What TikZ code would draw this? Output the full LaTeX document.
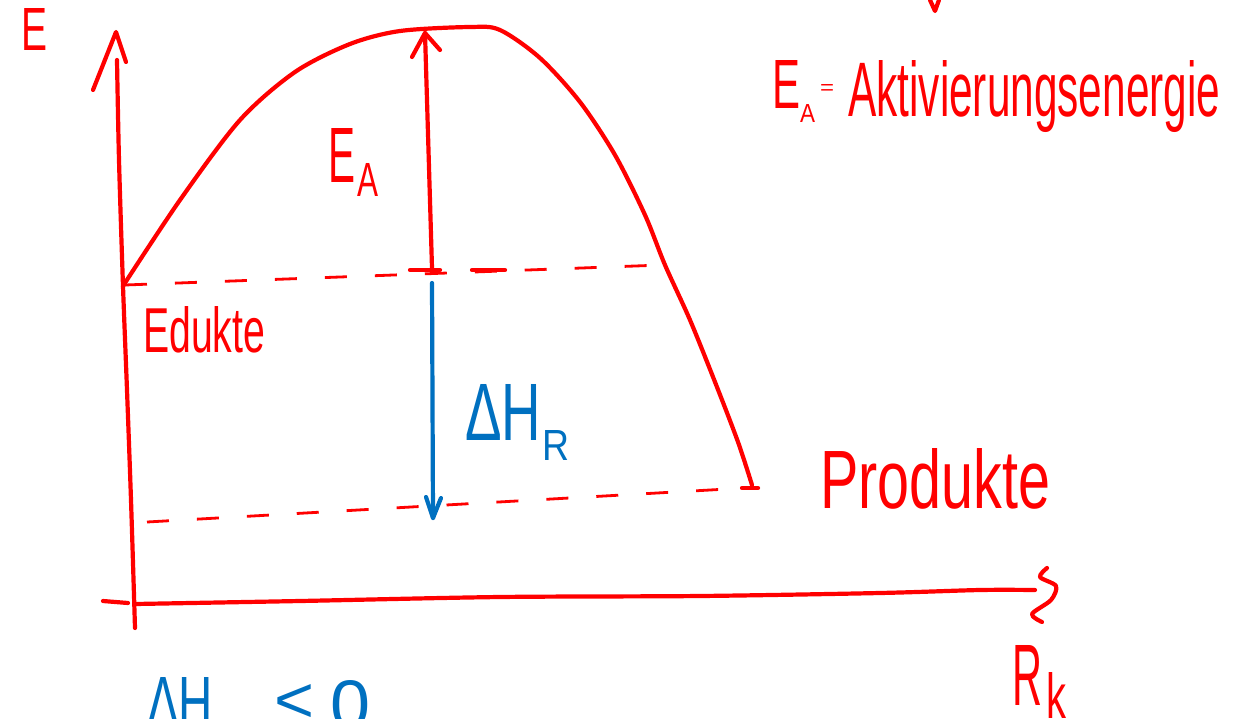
\documentclass[tikz,border=0pt]{standalone}
\usepackage{fontspec}
\setmainfont{Liberation Sans}
\definecolor{inkred}{RGB}{255,0,0}
\definecolor{inkblue}{RGB}{0,112,192}
\newcommand\hwbox[3]{\resizebox{#1pt}{#2pt}{#3}}
\tikzset{
  ink/.style={line width=4.2pt, line cap=round, line join=round},
  redink/.style={ink, draw=inkred},
  blueink/.style={ink, draw=inkblue},
  dashline/.style={line width=2.8pt, draw=inkred, dash pattern=on 22pt off 28pt},
  lbl/.style={inner sep=0pt, anchor=north west},
}
\begin{document}
\begin{tikzpicture}[x=1pt,y=-1pt]
\useasboundingbox (0,0) rectangle (1242,718);
\fill[white] (0,0) rectangle (1242,718);

% coordinates
\coordinate (ybot) at (135,628);
\coordinate (ytop) at (116,32);
\coordinate (edu) at (123,286);
\coordinate (peak) at (470,27);
\coordinate (prod) at (752,487);
\coordinate (eatop) at (425,33);
\coordinate (eabot) at (432,268);
\coordinate (dhtop) at (432,283);
\coordinate (dhbot) at (433,518);

% y axis
\draw[redink] plot[smooth] coordinates {(135,628) (131,500) (127,390) (123,286) (119,160) (117,60)};
\draw[redink] (93,90) -- (ytop) -- (126,62);
% x axis
\draw[redink] (103,601) -- (128,603);
\draw[redink] plot[smooth] coordinates {(135,604) (300,601) (500,597) (700,596) (880,593) (980,590) (1035,590)};
\draw[redink] plot[smooth] coordinates {(1047,568) (1040,577) (1056,586) (1051,600) (1032,614) (1042,622)};

% energy curve
\draw[redink] plot[smooth] coordinates {(edu) (180,200) (240,120) (295,72) (350,44) (400,31) (peak) (500,30) (540,58) (580,102) (615,155) (645,215) (665,265) (690,320) (715,382) (738,442) (752,485)};
\draw[redink] (742,488) -- (758,488);

% dashed levels
\draw[dashline] (125,285) -- (662,265);
\draw[redink] (410,270) -- (440,270);
\draw[redink] (472,270) -- (505,270);
\draw[dashline] (147,522) -- (745,488);

% E_A arrow
\draw[redink] (eabot) -- (eatop);
\draw[redink] (412,57) -- (eatop) -- (440,50);

% Delta H arrow
\draw[blueink] (dhtop) -- (dhbot);
\draw[blueink] (426,497) -- (dhbot) -- (441,498);

% top cut mark
\draw[redink] (930,0) -- (935,11) -- (939,0);

% labels
\node[lbl, text=inkred] (lE) at (21,8) {\hwbox{26}{42}{E}};
\node[lbl, text=inkred] (lEA) at (328,128) {\hwbox{27}{54}{E}};
\node[lbl, text=inkred] (lEAs) at (357,163) {\hwbox{21}{33}{A}};
\node[lbl, text=inkred] (ledu) at (143,306) {\hwbox{122}{46}{Edukte}};
\node[lbl, text=inkred] (lprod) at (820,448) {\hwbox{230}{60}{Produkte}};
\node[lbl, text=inkblue] (ldh) at (465,384) {\hwbox{76}{56}{ΔH}};
\node[lbl, text=inkblue] (ldhs) at (542,430) {\hwbox{27}{30}{R}};
\node[lbl, text=inkred] (ldefE) at (772,60) {\hwbox{28}{48}{E}};
\node[lbl, text=inkred] (ldefA) at (800,104) {\hwbox{15}{18}{A}};
\node[lbl, text=inkred] (ldefeq) at (820,84) {\hwbox{14}{10}{=}};
\node[lbl, text=inkred] (ldef) at (848,60) {\hwbox{372}{56}{Aktivierungsenergie}};
\node[lbl, text=inkred] (lR) at (1012,645) {\hwbox{30}{60}{R}};
\node[lbl, text=inkred] (lRk) at (1046,672) {\hwbox{20}{46}{k}};
\node[lbl, text=inkblue] (ldhneg) at (147,677) {\hwbox{66}{50}{ΔH}};
\node[lbl, text=inkblue] (llt) at (274,684) {\hwbox{40}{38}{<}};
\node[lbl, text=inkblue] (lzero) at (330,680) {\hwbox{40}{48}{0}};
\end{tikzpicture}
\end{document}
